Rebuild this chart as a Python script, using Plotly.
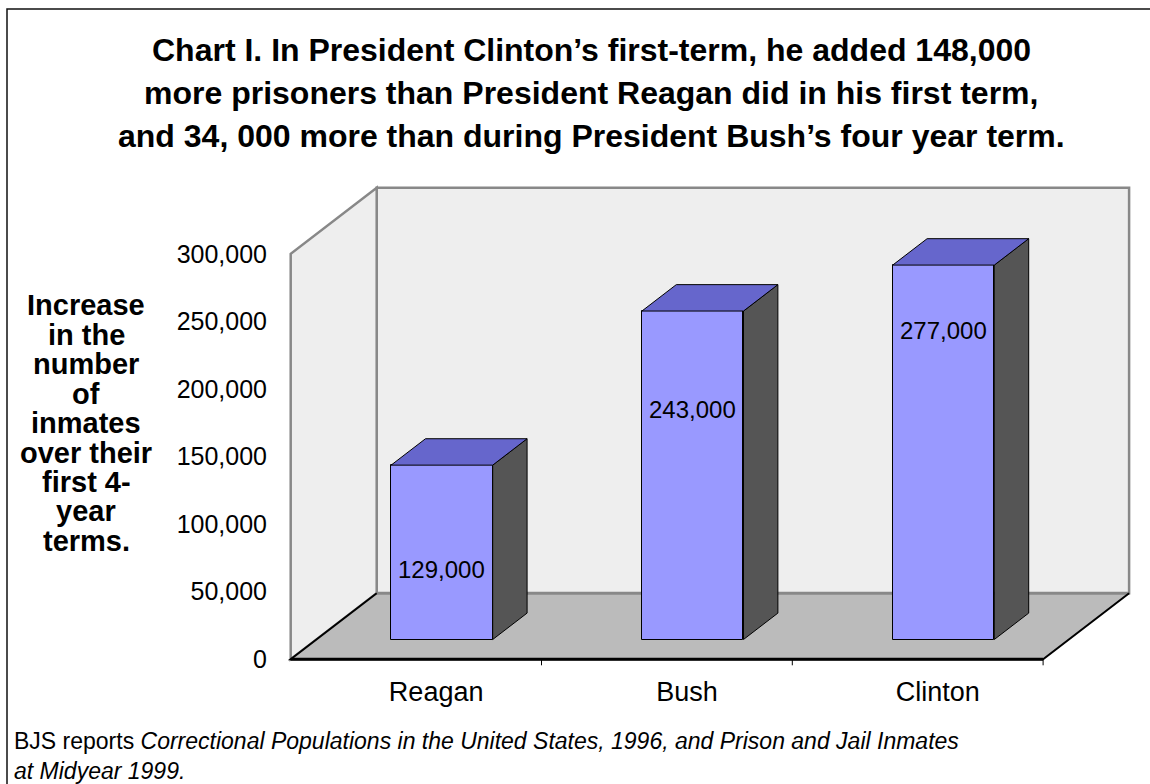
import plotly.graph_objects as go

# ---------------- data ----------------
categories = ["Reagan", "Bush", "Clinton"]
increase = [129000, 243000, 277000]
y_ticks = [0, 50000, 100000, 150000, 200000, 250000, 300000]

title_lines = [
    "Chart I. In President Clinton\u2019s first-term, he added 148,000",
    "more prisoners than President Reagan did in his first term,",
    "and 34, 000 more than during President Bush\u2019s four year term.",
]
ytitle_lines = ["Increase", "in the", "number", "of", "inmates",
                "over their", "first 4-", "year", "terms."]
footer_text = ("BJS reports <i>Correctional Populations in the United States, 1996, "
               "and Prison and Jail Inmates</i><br><i>at Midyear 1999.</i>")

# ---------------- geometry / style ----------------
W, H = 1150, 784
L, R, T, B = 283, 14, 180, 118
X0PX, Y0PX = 290.7, 659.3          # front-left-bottom corner (pixels)
PX_X = 250.8                        # pixels per category
PX_Y = 1.3517 / 1000                # pixels per unit
plot_w = W - L - R
plot_h = H - T - B
x_min = -0.5 - (X0PX - L) / PX_X
x_max = x_min + plot_w / PX_X
y_min = -((H - B) - Y0PX) / PX_Y
y_max = y_min + plot_h / PX_Y
DX = 86 / PX_X                      # depth offset in x units
DY = 66 / PX_Y                      # depth offset in y units
BAR_W = 0.405
D0, D1 = 0.3, 0.7
YTOP = y_ticks[-1]
FONT = "Liberation Sans, Arial, sans-serif"

def pxx(px):
    return (px - L) / plot_w

def pxy(py):
    return ((H - B) - py) / plot_h

fig = go.Figure()

# front faces of the bars
bar_x = [i + D0 * DX for i in range(len(categories))]
fig.add_trace(go.Bar(
    x=bar_x, y=increase, base=[D0 * DY] * len(increase), width=BAR_W,
    marker=dict(color="#9999ff", line=dict(color="#000000", width=1)),
    hoverinfo="skip", showlegend=False,
))

# side and top faces (computed from the values)
dd = D1 - D0
for i, v in enumerate(increase):
    xr = bar_x[i] + BAR_W / 2
    xl = bar_x[i] - BAR_W / 2
    yb = D0 * DY
    yt = yb + v
    fig.add_trace(go.Scatter(
        x=[xr, xr + dd * DX, xr + dd * DX, xr, xr],
        y=[yb, yb + dd * DY, yt + dd * DY, yt, yb],
        mode="lines", fill="toself", fillcolor="#555555",
        line=dict(color="#000000", width=1), hoverinfo="skip", showlegend=False,
    ))
    fig.add_trace(go.Scatter(
        x=[xl, xr, xr + dd * DX, xl + dd * DX, xl],
        y=[yt, yt, yt + dd * DY, yt + dd * DY, yt],
        mode="lines", fill="toself", fillcolor="#6666cc",
        line=dict(color="#000000", width=1), hoverinfo="skip", showlegend=False,
    ))

# ---------------- walls / floor ----------------
xl0, xr0 = -0.5, len(categories) - 0.5
shapes = []
def path(pts, close=True):
    s = "M " + " L ".join(f"{x},{y}" for x, y in pts)
    return s + (" Z" if close else "")

# back wall
shapes.append(dict(type="path", xref="x", yref="y", layer="below",
                   path=path([(xl0 + DX, DY), (xr0 + DX, DY), (xr0 + DX, YTOP + DY), (xl0 + DX, YTOP + DY)]),
                   fillcolor="#eeeeee", line=dict(color="#888888", width=2.5)))
# left wall
shapes.append(dict(type="path", xref="x", yref="y", layer="below",
                   path=path([(xl0, 0), (xl0, YTOP), (xl0 + DX, YTOP + DY), (xl0 + DX, DY)]),
                   fillcolor="#eeeeee", line=dict(color="#888888", width=2.5)))
# floor
shapes.append(dict(type="path", xref="x", yref="y", layer="below",
                   path=path([(xl0, 0), (xr0, 0), (xr0 + DX, DY), (xl0 + DX, DY)]),
                   fillcolor="#bbbbbb", line=dict(width=0)))
# back edge of floor (gray)
shapes.append(dict(type="path", xref="x", yref="y", layer="below",
                   path=path([(xl0 + DX, DY), (xr0 + DX, DY)], close=False),
                   line=dict(color="#888888", width=3)))
# floor edges (black)
shapes.append(dict(type="path", xref="x", yref="y", layer="below",
                   path=path([(xl0 + DX, DY), (xl0, 0), (xr0, 0), (xr0 + DX, DY)], close=False),
                   line=dict(color="#000000", width=2)))
shapes.append(dict(type="path", xref="x", yref="y", layer="below",
                   path=path([(xl0, 0), (xr0, 0)], close=False),
                   line=dict(color="#000000", width=3)))
# category boundary tick marks
tick_len = 6 / PX_Y
for k in range(1, len(categories) + 1):
    shapes.append(dict(type="line", xref="x", yref="y", x0=k - 0.5, x1=k - 0.5,
                       y0=0, y1=-tick_len, line=dict(color="#000000", width=1)))
# outer frame
shapes.append(dict(type="rect", xref="paper", yref="paper",
                   x0=pxx(7), y0=pxy(9), x1=pxx(1165), y1=pxy(800),
                   line=dict(color="#111111", width=1.5), fillcolor="rgba(0,0,0,0)"))

# ---------------- annotations ----------------
annotations = []
title_y = [50, 93, 136]
for txt, yy in zip(title_lines, title_y):
    annotations.append(dict(text=f"<b>{txt}</b>", xref="paper", yref="paper",
                            x=pxx(591), y=pxy(yy), xanchor="center", yanchor="middle",
                            showarrow=False, font=dict(family=FONT, size=32, color="#000000")))
for k, txt in enumerate(ytitle_lines):
    annotations.append(dict(text=f"<b>{txt}</b>", xref="paper", yref="paper",
                            x=pxx(86), y=pxy(305 + 29.5 * k), xanchor="center", yanchor="middle",
                            showarrow=False, font=dict(family=FONT, size=29, color="#000000")))
annotations.append(dict(text=footer_text, xref="paper", yref="paper",
                        x=pxx(12), y=pxy(756), xanchor="left", yanchor="middle", align="left",
                        showarrow=False, font=dict(family=FONT, size=23, color="#000000")))
# value labels inside the bars
label_frac = [0.40, 0.70, 0.826]
for i, v in enumerate(increase):
    annotations.append(dict(text=f"{v:,}", xref="x", yref="y",
                            x=bar_x[i], y=D0 * DY + v * label_frac[i],
                            xanchor="center", yanchor="middle", showarrow=False,
                            font=dict(family=FONT, size=24, color="#000000")))

LABEL_SHIFT = 0.08
fig.update_layout(
    width=W, height=H,
    margin=dict(l=L, r=R, t=T, b=B, pad=0),
    paper_bgcolor="#ffffff", plot_bgcolor="#ffffff",
    showlegend=False,
    shapes=shapes, annotations=annotations,
    bargap=0,
    xaxis=dict(range=[x_min, x_max], showgrid=False, zeroline=False, showline=False,
               tickmode="array", tickvals=[i + LABEL_SHIFT for i in range(len(categories))],
               ticktext=categories, ticks="outside", ticklen=2, tickcolor="rgba(0,0,0,0)",
               tickfont=dict(family=FONT, size=27, color="#000000"), fixedrange=True),
    yaxis=dict(range=[y_min, y_max], showgrid=False, zeroline=False, showline=False,
               tickmode="array", tickvals=y_ticks, tickformat=",d",
               ticks="outside", ticklen=10, tickcolor="rgba(0,0,0,0)",
               tickfont=dict(family=FONT, size=25, color="#000000"), fixedrange=True),
)

fig.write_html("out.html")
